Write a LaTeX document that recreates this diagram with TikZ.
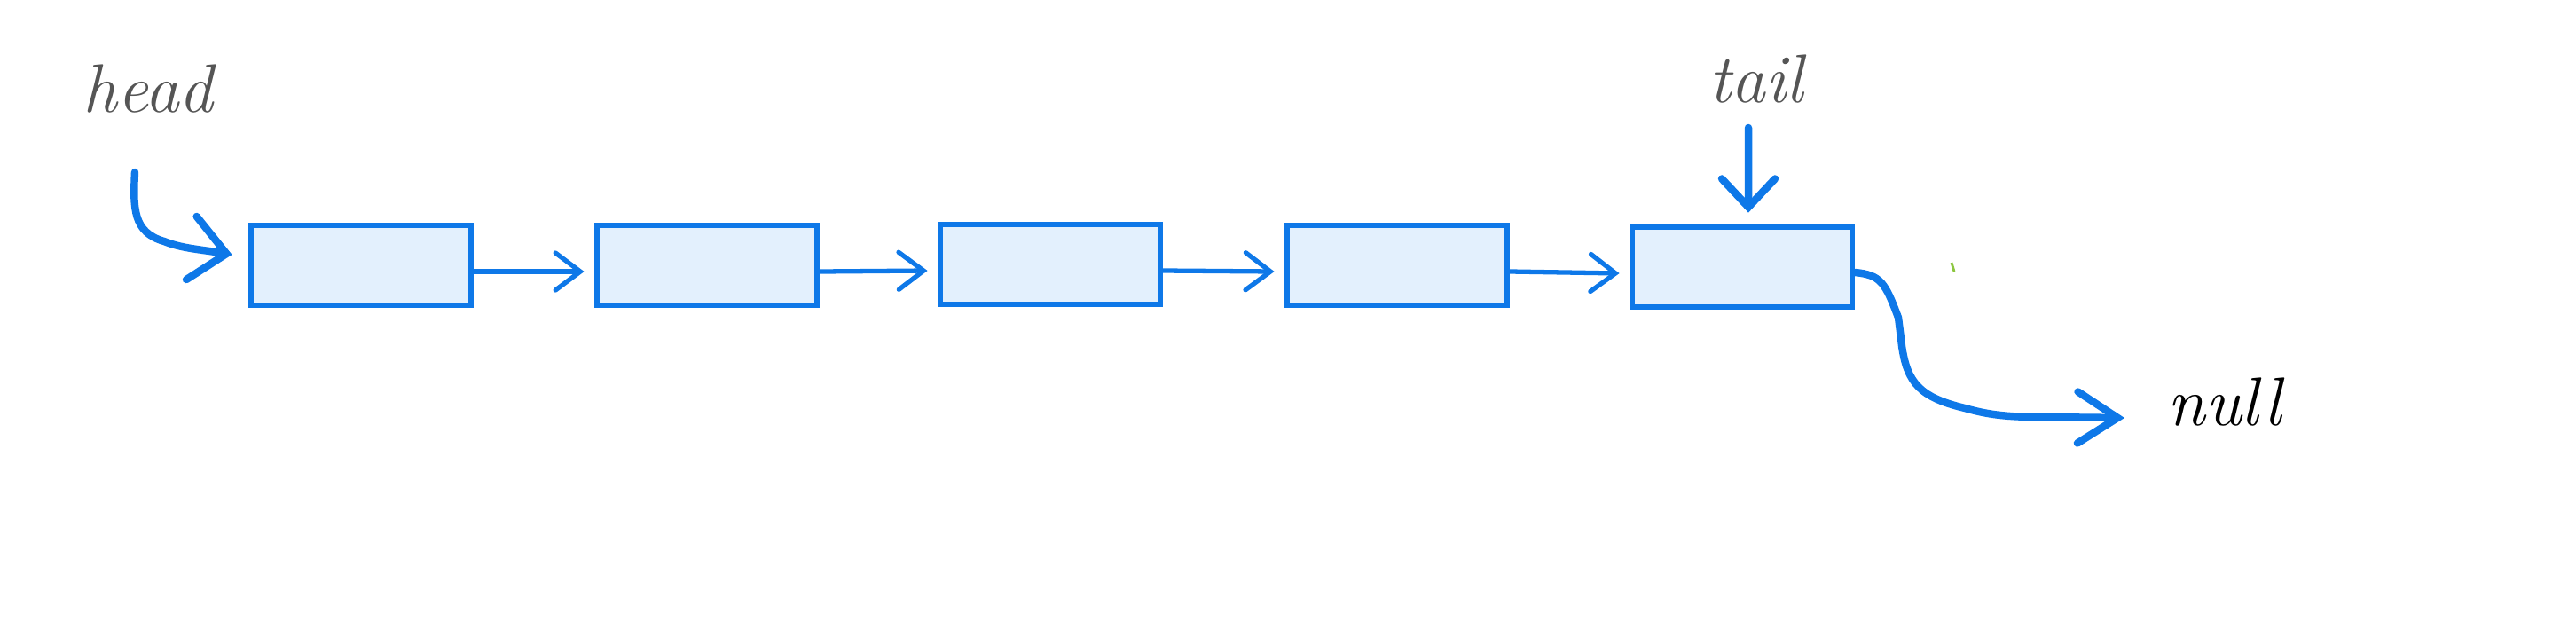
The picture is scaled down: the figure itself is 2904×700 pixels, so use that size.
\documentclass[tikz,border=0pt]{standalone}
\usetikzlibrary{arrows.meta}
\definecolor{lnk}{HTML}{0E78E8}
\definecolor{boxfill}{HTML}{E3F0FD}
\definecolor{lbl}{HTML}{555555}
\definecolor{tick}{HTML}{8CC63F}
\tikzset{
  listbox/.style={draw=lnk, fill=boxfill, line width=1.9pt, minimum width=2.48cm, minimum height=0.90cm, inner sep=0pt},
  link/.style={draw=lnk, line width=1.5pt, line cap=round, -{Straight Barb[length=0.28cm,width=0.42cm,line cap=round]}},
  bigarrow/.style={draw=lnk, line width=2.4pt, line cap=round, line join=round},
  lab/.style={font=\fontsize{22}{26}\selectfont\itshape, inner sep=0pt, anchor=base},
}
\begin{document}
\begin{tikzpicture}[x=0.01cm, y=-0.01cm]
\useasboundingbox (0,0) rectangle (2904,700);
% boxes
\node[listbox] (b1) at (407,299) {};
\node[listbox] (b2) at (797,299) {};
\node[listbox] (b3) at (1184,298) {};
\node[listbox] (b4) at (1575,299) {};
\node[listbox] (b5) at (1964,301) {};
% labels
\node[lab, text=lbl] (head) at (167,126) {head};
\node[lab, text=lbl] (tail) at (1980,115) {tail};
\node[lab, text=black, anchor=base west] (null) at (2443,479) {null};
% links
\draw[link] ([yshift=-0.07cm]b1.east) -- ([xshift=-0.11cm,yshift=-0.07cm]b2.west);
\draw[link] ([yshift=-0.07cm]b2.east) -- ([xshift=-0.11cm,yshift=-0.07cm]b3.west);
\draw[link] ([yshift=-0.07cm]b3.east) -- ([xshift=-0.11cm,yshift=-0.07cm]b4.west);
\draw[link] ([yshift=-0.07cm]b4.east) -- ([xshift=-0.11cm,yshift=-0.07cm]b5.west);
% head pointer
\coordinate (hs) at (152,194);
\draw[bigarrow, -{Straight Barb[length=0.40cm,width=0.72cm,line cap=round]}]
  (hs) .. controls (150,235) and (150,262) .. (185,272)
  .. controls (205,280) and (225,281) .. ([xshift=-0.18cm,yshift=0.12cm]b1.west);
% tail pointer
\coordinate (ts) at (1971,144);
\draw[bigarrow, -{Straight Barb[length=0.32cm,width=0.60cm,line cap=round]}]
  (ts) -- ([xshift=0.07cm,yshift=0.13cm]b5.north);
% null pointer
\draw[bigarrow, -{Straight Barb[length=0.45cm,width=0.58cm,line cap=round]}]
  ([yshift=-0.06cm]b5.east) .. controls (2120,310) and (2125,318) .. (2140,358)
  -- (2144,390) .. controls (2150,432) and (2165,448) .. (2215,460)
  .. controls (2240,467) and (2260,470) .. (2300,470)
  -- ([xshift=-0.48cm,yshift=0.08cm]null.base west);
% stray tick
\draw[tick, line width=0.8pt] (2200,296) -- (2203,306);
\end{tikzpicture}
\end{document}
